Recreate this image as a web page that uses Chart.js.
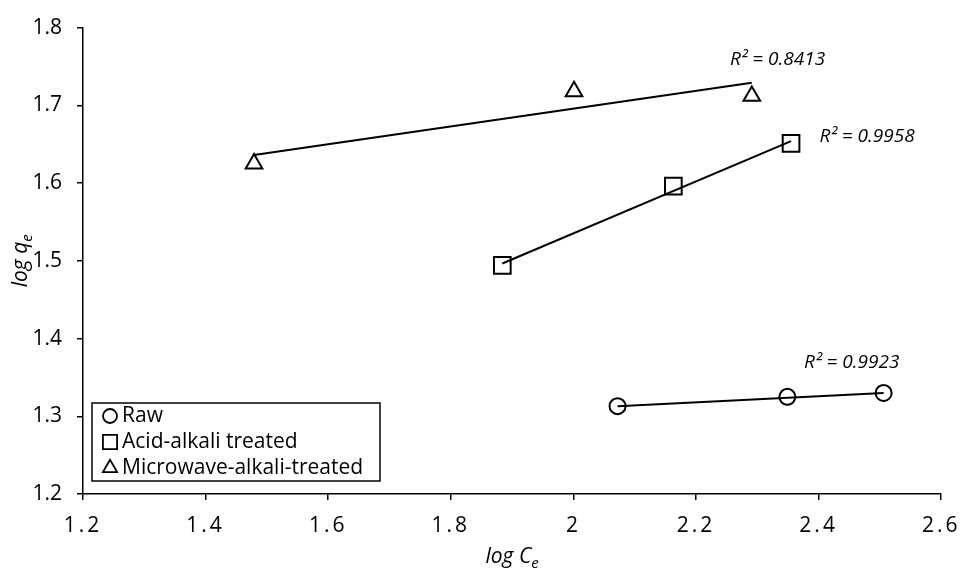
<!DOCTYPE html>
<html>
<head>
<meta charset="utf-8">
<script src="https://cdn.jsdelivr.net/npm/chart.js@4.4.1/dist/chart.umd.min.js"></script>
<style>
  html, body { margin: 0; padding: 0; background: #fff; }
  #wrap { width: 969px; height: 574px; }
</style>
</head>
<body>
<div id="wrap"><canvas id="isoChart" width="969" height="574"></canvas></div>
<script>
// measured points (log Ce, log qe)
var rawX = [2.072, 2.349, 2.506];
var rawY = [1.313, 1.325, 1.330];
var acidX = [1.884, 2.163, 2.355];
var acidY = [1.494, 1.596, 1.651];
var microX = [1.479, 2.001, 2.291];
var microY = [1.625, 1.718, 1.712];

// linear trendline values at first / last x
var rawTrendY = [1.313, 1.330];
var acidTrendY = [1.4965, 1.654];
var microTrendY = [1.636, 1.729];

// R² labels and where they sit (data units)
var r2Text = ['R² = 0.9923', 'R² = 0.9958', 'R² = 0.8413'];
var r2X = [2.454, 2.479, 2.333];
var r2Y = [1.369, 1.660, 1.759];

var seriesNames = ['Raw', 'Acid-alkali treated', 'Microwave-alkali-treated'];
var seriesStyles = ['circle', 'rect', 'triangle'];
var xTickLabels = ['1.2', '1.4', '1.6', '1.8', '2', '2.2', '2.4', '2.6'];
var yTickLabels = ['1.2', '1.3', '1.4', '1.5', '1.6', '1.7', '1.8'];

var FONT = '"Open Sans"';

function toPoints(xs, ys) {
     return xs.map(function (x, i) { return { x: x, y: ys[i] }; });
}

function trendPoints(xs, ty) {
     return [{ x: xs[0], y: ty[0] }, { x: xs[xs.length - 1], y: ty[1] }];
}

function markerSet(label, xs, ys, style, radius) {
     return {
          label: label,
          data: toPoints(xs, ys),
          pointStyle: style,
          pointRadius: radius,
          pointHoverRadius: radius,
          pointBorderWidth: 2,
          borderColor: '#000',
          backgroundColor: 'rgba(0,0,0,0)',
          showLine: false,
          order: 1
     };
}

function trendSet(xs, ty) {
     return {
          label: 'trend',
          data: trendPoints(xs, ty),
          showLine: true,
          borderColor: '#000',
          borderWidth: 2,
          pointRadius: 0,
          fill: false,
          order: 2
     };
}

// x tick labels are spaced out in the original
var spacedTicks = {
     id: 'spacedTicks',
     afterLayout: function (chart) {
          var s = chart.scales.x;
          if (s._spaced) return;
          var orig = s.drawLabels;
          s.drawLabels = function (area) {
               chart.ctx.save();
               chart.ctx.letterSpacing = '3px';
               orig.call(s, area);
               chart.ctx.restore();
          };
          s._spaced = true;
     }
};

// R² text + in-plot legend + axis titles with subscripts
var decorPlugin = {
     id: 'decor',
     afterDraw: function (chart) {
          var ctx = chart.ctx;
          var area = chart.chartArea;
          var xs = chart.scales.x, ys = chart.scales.y;

          ctx.save();
          ctx.fillStyle = '#000';

          // R² labels
          ctx.font = 'italic 19px ' + FONT;
          ctx.textAlign = 'center';
          ctx.textBaseline = 'middle';
          for (var i = 0; i < r2Text.length; i++) {
               ctx.fillText(r2Text[i], xs.getPixelForValue(r2X[i]), ys.getPixelForValue(r2Y[i]));
          }

          // legend box
          var bx = area.left + 9, bw = 288, bh = 78;
          var by = area.bottom - 13 - bh;
          ctx.fillStyle = '#fff';
          ctx.fillRect(bx, by, bw, bh);
          ctx.strokeStyle = '#000';
          ctx.lineWidth = 1.5;
          ctx.strokeRect(bx, by, bw, bh);

          var legendRadius = [7, 10, 8.2];
          ctx.font = '21px ' + FONT;
          ctx.textAlign = 'left';
          ctx.textBaseline = 'middle';
          for (var j = 0; j < seriesNames.length; j++) {
               var ly = by + 13 + j * 26;
               ctx.fillStyle = 'rgba(0,0,0,0)';
               ctx.strokeStyle = '#000';
               ctx.lineWidth = 1.8;
               Chart.helpers.drawPoint(ctx, {
                    pointStyle: seriesStyles[j],
                    radius: legendRadius[j],
                    rotation: 0,
                    borderWidth: 1.8
               }, bx + 18, ly);
               ctx.fillStyle = '#000';
               ctx.fillText(seriesNames[j], bx + 30, ly);
          }

          // x title: log C_e
          var cx = (area.left + area.right) / 2;
          ctx.font = 'italic 21px ' + FONT;
          var w1 = ctx.measureText('log C').width;
          ctx.font = 'italic 15px ' + FONT;
          var w2 = ctx.measureText('e').width;
          var sx = cx - (w1 + w2) / 2;
          ctx.textBaseline = 'alphabetic';
          ctx.font = 'italic 21px ' + FONT;
          ctx.fillText('log C', sx, 563);
          ctx.font = 'italic 15px ' + FONT;
          ctx.fillText('e', sx + w1, 568);

          // y title: log q_e
          var cy = (area.top + area.bottom) / 2;
          ctx.translate(27, cy);
          ctx.rotate(-Math.PI / 2);
          ctx.font = 'italic 21px ' + FONT;
          var v1 = ctx.measureText('log q').width;
          ctx.font = 'italic 15px ' + FONT;
          var v2 = ctx.measureText('e').width;
          var sv = -(v1 + v2) / 2;
          ctx.font = 'italic 21px ' + FONT;
          ctx.fillText('log q', sv, 0);
          ctx.font = 'italic 15px ' + FONT;
          ctx.fillText('e', sv + v1, 5);

          ctx.restore();
     }
};

var ctx = document.getElementById('isoChart').getContext('2d');

new Chart(ctx, {
     type: 'scatter',
     data: {
          datasets: [
               markerSet(seriesNames[0], rawX, rawY, 'circle', 8),
               markerSet(seriesNames[1], acidX, acidY, 'rect', 11.8),
               markerSet(seriesNames[2], microX, microY, 'triangle', 9.6),
               trendSet(rawX, rawTrendY),
               trendSet(acidX, acidTrendY),
               trendSet(microX, microTrendY)
          ]
     },
     options: {
          responsive: false,
          animation: false,
          devicePixelRatio: 1,
          layout: {
               padding: { top: 19, right: 22, left: 0, bottom: 0 }
          },
          plugins: {
               legend: { display: false },
               tooltip: { enabled: false }
          },
          scales: {
               x: {
                    type: 'linear',
                    min: 1.2,
                    max: 2.6,
                    afterFit: function (s) { s.height = 80; },
                    ticks: {
                         stepSize: 0.2,
                         color: '#000',
                         padding: 13,
                         font: { family: FONT, size: 21 },
                         maxRotation: 0,
                         callback: function (v, i) { return xTickLabels[i]; }
                    },
                    grid: {
                         drawOnChartArea: false,
                         drawTicks: true,
                         tickLength: 6,
                         color: '#000',
                         lineWidth: 1.5
                    },
                    border: { display: true, color: '#000', width: 1.5 }
               },
               y: {
                    type: 'linear',
                    min: 1.2,
                    max: 1.8,
                    afterFit: function (s) { s.width = 83; },
                    ticks: {
                         stepSize: 0.1,
                         color: '#000',
                         padding: 15,
                         font: { family: FONT, size: 21 },
                         callback: function (v, i) { return yTickLabels[i]; }
                    },
                    grid: {
                         drawOnChartArea: false,
                         drawTicks: true,
                         tickLength: 6,
                         color: '#000',
                         lineWidth: 1.5
                    },
                    border: { display: true, color: '#000', width: 1.5 }
               }
          }
     },
     plugins: [spacedTicks, decorPlugin]
});
</script>
</body>
</html>
